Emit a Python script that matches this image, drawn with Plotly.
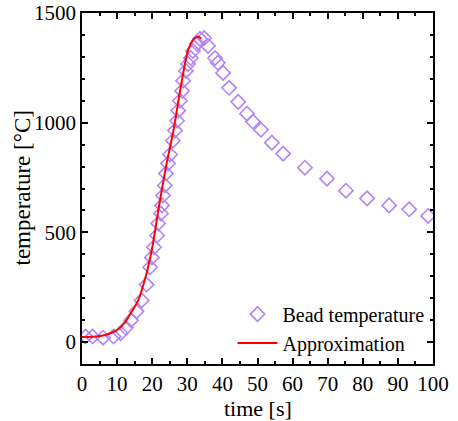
import plotly.graph_objects as go

bead_time = [1, 3, 6, 9, 11, 12.5, 14, 15.5, 17, 18.4, 19.4, 19.9, 20.5, 21.4, 21.7,
             22.5, 22.8, 23.1, 23.6, 23.9, 24.5, 25.1, 25.9, 26.5, 27.1, 27.4, 27.9,
             28.5, 28.8, 29.6, 30.2, 31.0, 31.6, 32.8, 33.6, 34.8, 35.9, 37.9, 38.7,
             40.2, 41.9, 44.5, 47.0, 48.7, 51.0, 54.1, 57.3, 63.5, 69.8, 75.2, 81.2,
             87.5, 93.2, 98.6]
bead_temp = [25, 25, 20, 25, 40, 65, 100, 140, 190, 262, 341, 386, 432, 486, 541,
             586, 623, 668, 714, 768, 814, 855, 918, 964, 1009, 1055, 1100,
             1145, 1191, 1236, 1268, 1295, 1327, 1359, 1382, 1386, 1350, 1295, 1273,
             1227, 1159, 1095, 1041, 1005, 968, 909, 859, 795, 745, 690, 655,
             623, 605, 575]

# approximation curve
approx_time = [0, 2, 4, 6, 8, 10, 12, 14, 16, 18, 20, 22, 24, 26, 28, 30, 31, 32, 33, 34]
approx_temp = [23, 23, 25, 30, 40, 55, 85, 135, 190, 290, 430, 625, 805, 960, 1150,
               1318, 1360, 1385, 1392, 1384]

FONT = '"Liberation Serif", "Times New Roman", Times, serif'

fig = go.Figure()

fig.add_trace(go.Scatter(
    x=bead_time, y=bead_temp, mode="markers", name="Bead temperature",
    marker=dict(symbol="diamond-open", size=11, color="#b384f7",
                line=dict(width=1.6, color="#b384f7")),
))

fig.add_trace(go.Scatter(
    x=approx_time, y=approx_temp, mode="lines", name="Approximation",
    line=dict(color="#ff0000", width=2, shape="spline"),
))

axis_common = dict(
    showline=True, linecolor="black", linewidth=1.5, mirror="allticks",
    ticks="inside", ticklen=6, tickwidth=1.5, tickcolor="black",
    showgrid=False, zeroline=False, automargin=False,
    ticklabeloverflow="allow",
    tickfont=dict(family=FONT, size=21, color="black"),
)

fig.update_xaxes(
    range=[0, 100], dtick=10,
    minor=dict(ticks="inside", dtick=5, ticklen=3, tickcolor="black", tickwidth=1.5),
    **axis_common
)
fig.update_yaxes(
    range=[-100, 1500], tickvals=[0, 500, 1000, 1500],
    minor=dict(ticks="inside", dtick=100, ticklen=3, tickcolor="black", tickwidth=1.5),
    **axis_common
)

# axis titles as annotations so they sit exactly where the reference has them
fig.add_annotation(text="time [s]", xref="paper", yref="paper", x=0.5, y=0,
                   xanchor="center", yanchor="middle", yshift=-44, showarrow=False,
                   font=dict(family=FONT, size=22, color="black"))
fig.add_annotation(text="temperature [°C]", xref="paper", yref="paper", x=0, y=0.5,
                   xanchor="center", yanchor="middle", xshift=-60, textangle=-90,
                   showarrow=False, font=dict(family=FONT, size=23, color="black"))

fig.update_layout(
    width=458, height=421,
    margin=dict(l=82, r=25, t=13, b=57),
    paper_bgcolor="white", plot_bgcolor="white",
    font=dict(family=FONT, size=20, color="black"),
    showlegend=True,
    legend=dict(
        x=0.99, y=0.004, xanchor="right", yanchor="bottom",
        bgcolor="rgba(0,0,0,0)", font=dict(family=FONT, size=20, color="black"),
        itemwidth=40, tracegroupgap=0,
    ),
)

# drop the browser's default 8px body margin so the figure fills the window
fig.write_html("out.html", config={"displayModeBar": False},
               post_script="document.body.style.margin='0';")
